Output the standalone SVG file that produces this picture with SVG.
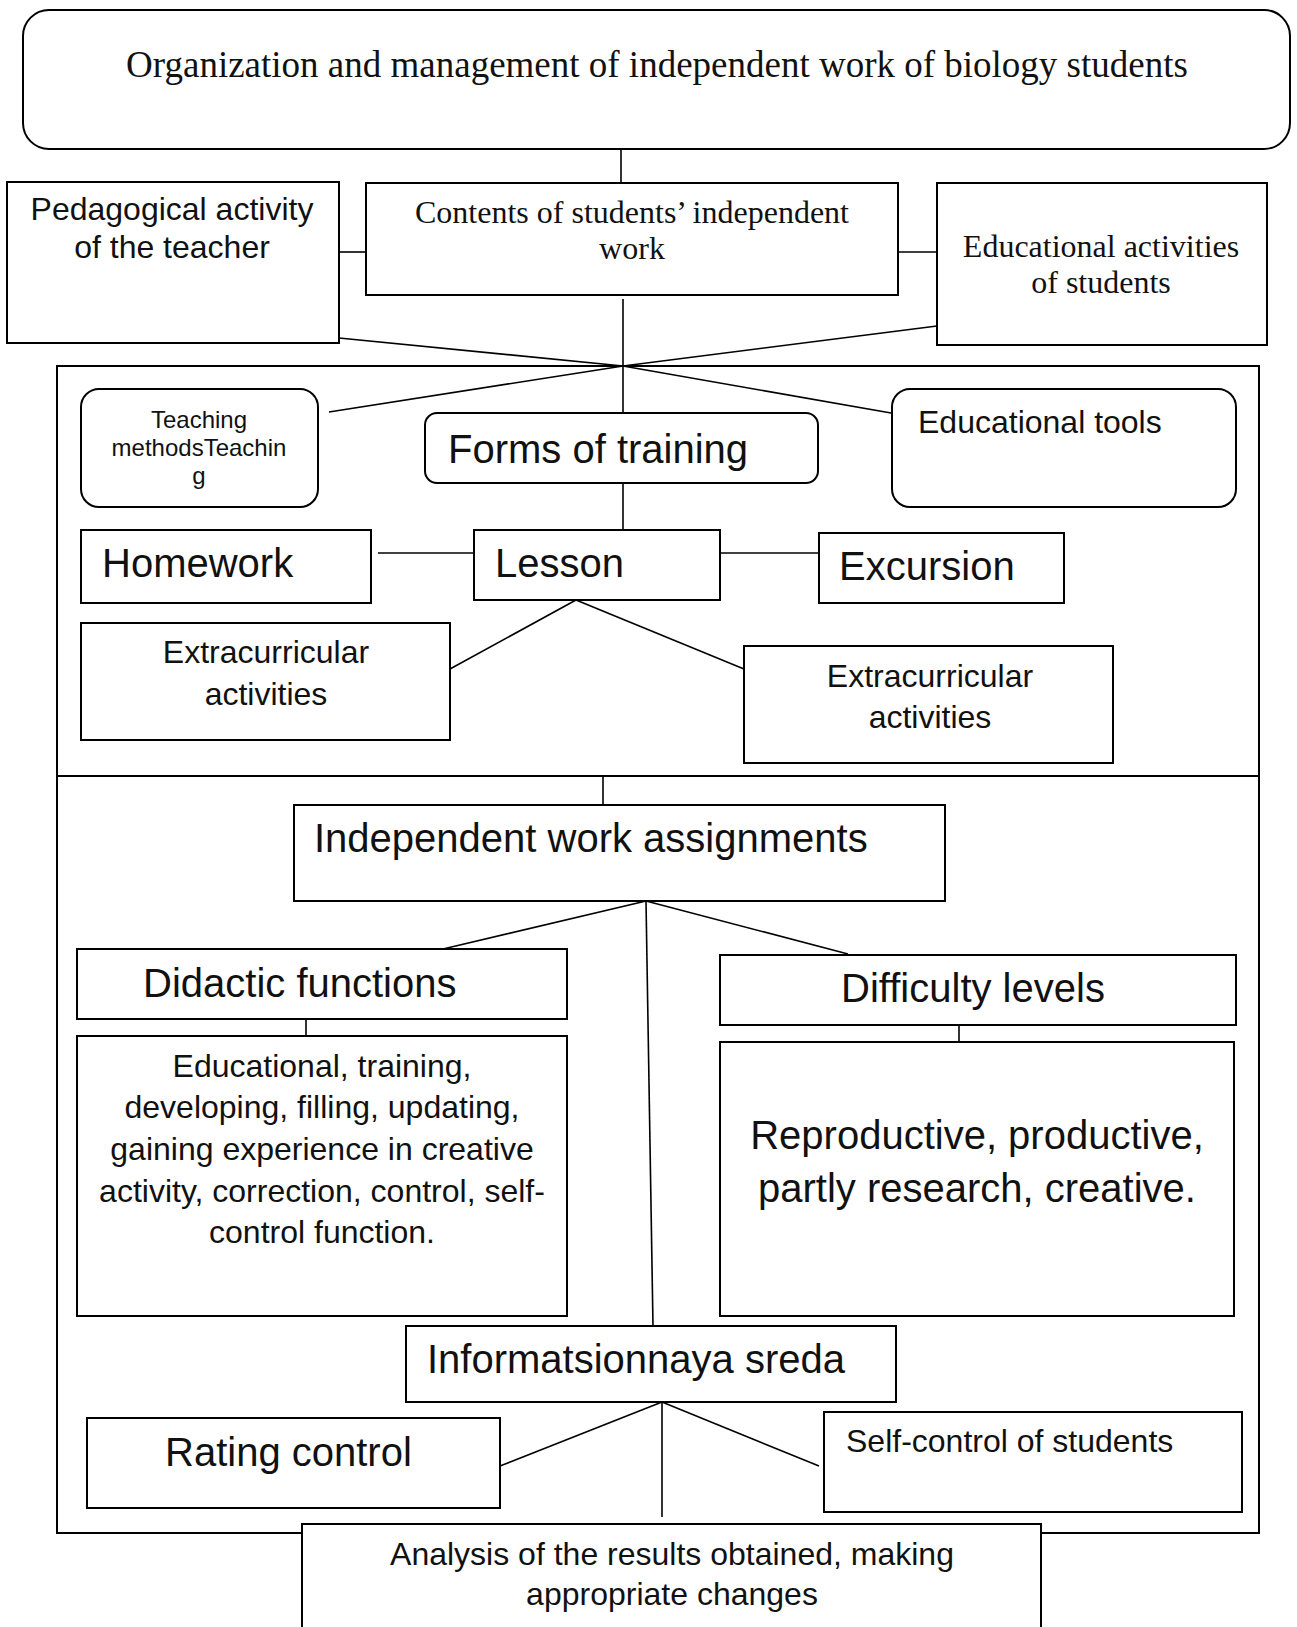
<svg xmlns="http://www.w3.org/2000/svg" width="1297" height="1627" viewBox="0 0 1297 1627">
<style>
.box{fill:#fff;stroke:#000;stroke-width:2}
.ln{fill:none;stroke:#000;stroke-width:1.6}
.sans{font-family:"Liberation Sans",Arial,sans-serif;fill:#111}
.serif{font-family:"Liberation Serif","Times New Roman",serif;fill:#111}
.c{text-anchor:middle}
.f40{font-size:40px}
.f32{font-size:32px}
.f24{font-size:24px}
</style>
<rect width="1297" height="1627" fill="#fff"/>
<g id="frame">
<path class="ln" d="M57,366 H1259 V1533 H57 Z" style="stroke-width:2"/>
<line class="ln" x1="57" y1="776" x2="1259" y2="776" style="stroke-width:2"/>
</g>
<g id="connectors">
<line class="ln" x1="621" y1="149" x2="621" y2="183"/>
<line class="ln" x1="339" y1="252" x2="366" y2="252"/>
<line class="ln" x1="898" y1="252" x2="937" y2="252"/>
<line class="ln" x1="623" y1="299" x2="623" y2="413"/>
<line class="ln" x1="339" y1="338" x2="623" y2="366"/>
<line class="ln" x1="623" y1="366" x2="891" y2="413"/>
<line class="ln" x1="937" y1="326" x2="623" y2="366"/>
<line class="ln" x1="623" y1="366" x2="329" y2="412"/>
<line class="ln" x1="623" y1="483" x2="623" y2="530"/>
<line class="ln" x1="378" y1="553" x2="474" y2="553"/>
<line class="ln" x1="720" y1="553" x2="819" y2="553"/>
<line class="ln" x1="576" y1="600" x2="450" y2="669"/>
<line class="ln" x1="576" y1="600" x2="744" y2="669"/>
<line class="ln" x1="603" y1="776" x2="603" y2="805"/>
<line class="ln" x1="646" y1="901" x2="443" y2="949"/>
<line class="ln" x1="646" y1="901" x2="848" y2="954"/>
<line class="ln" x1="646" y1="901" x2="653" y2="1326"/>
<line class="ln" x1="306" y1="1019" x2="306" y2="1036"/>
<line class="ln" x1="959" y1="1025" x2="959" y2="1042"/>
<line class="ln" x1="662" y1="1402" x2="500" y2="1466"/>
<line class="ln" x1="662" y1="1402" x2="819" y2="1466"/>
<line class="ln" x1="662" y1="1402" x2="662" y2="1517"/>
</g>
<g id="title">
<rect class="box" x="23" y="10" width="1267" height="139" rx="26"/>
<text class="serif c" x="657" y="77" font-size="37">Organization and management of independent work of biology students</text>
</g>
<g id="pedagogical">
<rect class="box" x="7" y="182" width="332" height="161"/>
<text class="sans c f32" x="172" y="220">Pedagogical activity</text>
<text class="sans c f32" x="172" y="258">of the teacher</text>
</g>
<g id="contents">
<rect class="box" x="366" y="183" width="532" height="112"/>
<text class="serif c" x="632" y="223" font-size="32">Contents of students’ independent</text>
<text class="serif c" x="632" y="259" font-size="32">work</text>
</g>
<g id="educational-activities">
<rect class="box" x="937" y="183" width="330" height="162"/>
<text class="serif c" x="1101" y="257" font-size="32">Educational activities</text>
<text class="serif c" x="1101" y="293" font-size="32">of students</text>
</g>
<g id="teaching-methods">
<rect class="box" x="81" y="389" width="237" height="118" rx="18"/>
<text class="sans c f24" x="199" y="428">Teaching</text>
<text class="sans c f24" x="199" y="456">methodsTeachin</text>
<text class="sans c f24" x="199" y="484">g</text>
</g>
<g id="forms">
<rect class="box" x="425" y="413" width="393" height="70" rx="12"/>
<text class="sans f40" x="448" y="463">Forms of training</text>
</g>
<g id="educational-tools">
<rect class="box" x="892" y="389" width="344" height="118" rx="18"/>
<text class="sans f32" x="918" y="433">Educational tools</text>
</g>
<g id="homework">
<rect class="box" x="81" y="530" width="290" height="73"/>
<text class="sans f40" x="102" y="577">Homework</text>
</g>
<g id="lesson">
<rect class="box" x="474" y="530" width="246" height="70"/>
<text class="sans f40" x="495" y="577">Lesson</text>
</g>
<g id="excursion">
<rect class="box" x="819" y="533" width="245" height="70"/>
<text class="sans f40" x="839" y="580">Excursion</text>
</g>
<g id="extracurricular-left">
<rect class="box" x="81" y="623" width="369" height="117"/>
<text class="sans c f32" x="266" y="663">Extracurricular</text>
<text class="sans c f32" x="266" y="705">activities</text>
</g>
<g id="extracurricular-right">
<rect class="box" x="744" y="646" width="369" height="117"/>
<text class="sans c f32" x="930" y="687">Extracurricular</text>
<text class="sans c f32" x="930" y="728">activities</text>
</g>
<g id="assignments">
<rect class="box" x="294" y="805" width="651" height="96"/>
<text class="sans f40" x="314" y="852">Independent work assignments</text>
</g>
<g id="didactic">
<rect class="box" x="77" y="949" width="490" height="70"/>
<text class="sans f40" x="143" y="997">Didactic functions</text>
</g>
<g id="difficulty">
<rect class="box" x="720" y="955" width="516" height="70"/>
<text class="sans c f40" x="973" y="1002">Difficulty levels</text>
</g>
<g id="functions-list">
<rect class="box" x="77" y="1036" width="490" height="280"/>
<text class="sans c f32" x="322" y="1077">Educational, training,</text>
<text class="sans c f32" x="322" y="1118">developing, filling, updating,</text>
<text class="sans c f32" x="322" y="1160">gaining experience in creative</text>
<text class="sans c f32" x="322" y="1202">activity, correction, control, self-</text>
<text class="sans c f32" x="322" y="1243">control function.</text>
</g>
<g id="levels-list">
<rect class="box" x="720" y="1042" width="514" height="274"/>
<text class="sans c f40" x="977" y="1149">Reproductive, productive,</text>
<text class="sans c f40" x="977" y="1202">partly research, creative.</text>
</g>
<g id="informatsionnaya">
<rect class="box" x="406" y="1326" width="490" height="76"/>
<text class="sans f40" x="427" y="1373">Informatsionnaya sreda</text>
</g>
<g id="rating">
<rect class="box" x="87" y="1418" width="413" height="90"/>
<text class="sans f40" x="165" y="1466">Rating control</text>
</g>
<g id="self-control">
<rect class="box" x="824" y="1412" width="418" height="100"/>
<text class="sans f32" x="846" y="1452">Self-control of students</text>
</g>
<g id="analysis">
<rect class="box" x="302" y="1524" width="739" height="110"/>
<text class="sans c f32" x="672" y="1565">Analysis of the results obtained, making</text>
<text class="sans c f32" x="672" y="1605">appropriate changes</text>
</g>
</svg>
